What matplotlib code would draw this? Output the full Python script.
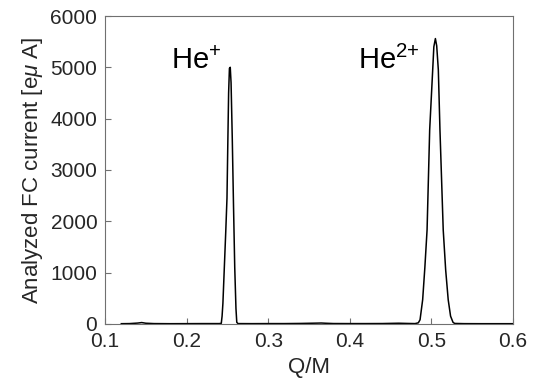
import matplotlib
matplotlib.use('Agg')
import matplotlib.pyplot as plt

plt.rcParams['font.family'] = ['Liberation Sans', 'DejaVu Sans']
plt.rcParams['mathtext.fontset'] = 'custom'
plt.rcParams['mathtext.rm'] = 'Liberation Sans'
plt.rcParams['mathtext.it'] = 'Liberation Sans:italic'

# Q/M scan and analyzed Faraday-cup current
qm = [0.120, 0.130, 0.140, 0.145, 0.150, 0.160, 0.180, 0.200, 0.220, 0.240,
      0.2425, 0.2435, 0.2445, 0.2460, 0.2480, 0.2495, 0.2505, 0.2515, 0.2525,
      0.2535, 0.2545, 0.2560, 0.2575, 0.2590, 0.2605, 0.2615, 0.2630,
      0.280, 0.300, 0.320, 0.340, 0.360, 0.365, 0.370, 0.380, 0.400, 0.420,
      0.440, 0.460, 0.470, 0.480, 0.484, 0.4861, 0.4893, 0.4920, 0.4947,
      0.4979, 0.5016, 0.5030, 0.5049, 0.5065, 0.5085, 0.5105, 0.5145,
      0.5175, 0.5206, 0.5235, 0.5265, 0.5285, 0.540, 0.560, 0.580, 0.600]
current = [3, 5, 15, 25, 12, 5, 3, 4, 5, 5,
           10, 150, 400, 1000, 1800, 2450, 3500, 4500, 4980,
           5000, 4700, 3600, 2300, 1100, 300, 30, 5,
           4, 5, 5, 8, 14, 16, 12, 6, 5, 5,
           6, 12, 8, 5, 20, 80, 470, 1100, 1830,
           3780, 4950, 5400, 5560, 5420, 4950, 3780, 1830,
           1050, 470, 150, 30, 8, 4, 3, 3, 3]

peak_labels = ['He$^{+}$', 'He$^{2{+}}$']
label_x = [0.181, 0.410]
label_y = [4960, 4960]

fig = plt.figure(figsize=(5.44, 3.81), dpi=100)
ax = fig.add_axes([0.193, 0.150, 0.750, 0.808])

ax.plot(qm, current, color='black', lw=1.1)

for lab, lx, ly in zip(peak_labels, label_x, label_y):
    ax.text(lx, ly, lab, fontsize=21, ha='left', va='baseline', color='black')

ax.set_xlim(0.1, 0.6)
ax.set_ylim(0, 6000)
ax.set_xticks([0.1, 0.2, 0.3, 0.4, 0.5, 0.6])
ax.set_yticks([0, 1000, 2000, 3000, 4000, 5000, 6000])

grey = '#262626'
for s in ax.spines.values():
    s.set_color('#707070')
    s.set_linewidth(0.8)
ax.tick_params(direction='in', length=4, width=0.8, color='#707070',
               labelcolor=grey, labelsize=15, top=False, right=False)
ax.tick_params(axis='y', pad=5.5)
ax.tick_params(axis='x', pad=6)
ax.set_xlabel('Q/M', fontsize=16, color=grey, labelpad=4)
ax.set_ylabel(r'Analyzed FC current [e$\mu$ A]', fontsize=16, color=grey, labelpad=4)

fig.savefig('out.png', dpi=100)
